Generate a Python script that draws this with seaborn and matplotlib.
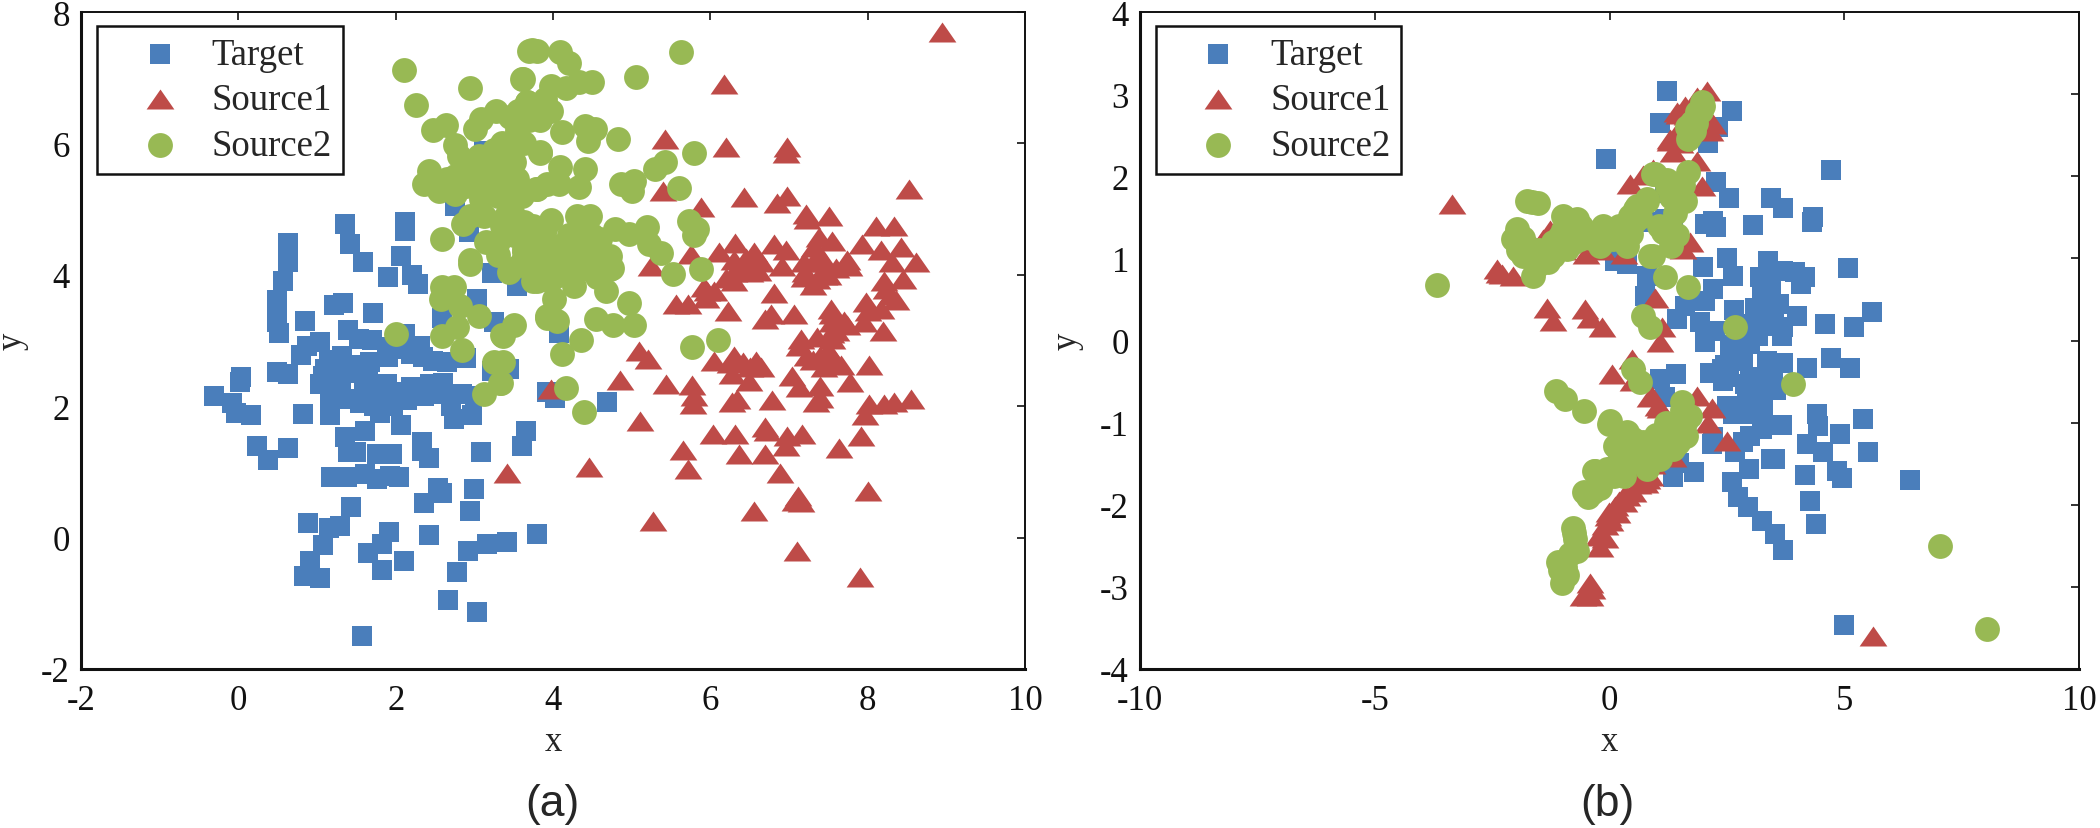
import matplotlib
matplotlib.use("Agg")
import matplotlib.pyplot as plt
import pandas as pd
import seaborn as sns

# (x, y)
target_a = [
    (0.63,4.49),(0.63,4.19),(1.35,4.77),(1.42,4.47),(1.59,4.19),(2.12,4.80),(2.12,4.67),(2.07,4.28),(1.90,3.97),(2.21,4.0),
    (2.76,5.05),(2.93,4.65),(3.12,5.89),(3.22,4.02),(0.57,3.91),(2.28,3.86),(3.54,3.91),(0.49,3.61),(0.49,3.43),(0.49,3.28),
    (0.52,3.11),(0.85,3.29),(1.21,3.54),(1.33,3.57),(1.71,3.42),(1.40,3.16),(1.53,3.02),(1.70,3.01),(1.04,2.98),(0.87,2.92),
    (0.80,2.78),(1.32,2.77),(2.12,3.10),(1.89,2.90),(2.10,2.87),(2.31,2.91),(3.03,3.63),(2.59,3.35),(3.25,3.28),(2.48,2.69),
    (2.65,2.67),(2.89,2.74),(3.40,2.57),(3.23,2.54),(0.04,2.45),(0.02,2.37),(0.49,2.52),(0.63,2.49),(1.10,2.57),(1.08,2.46),
    (1.04,2.34),(1.25,2.64),(1.44,2.62),(1.67,2.67),(1.53,2.51),(1.17,2.13),(1.34,2.11),(1.51,2.11),(1.68,2.29),(1.89,2.34),
    (1.70,2.11),(1.89,2.08),(2.0,2.21),(1.72,2.0),(1.97,2.0),(2.19,2.29),(2.44,2.34),(2.36,2.16),(2.61,2.19),(2.84,2.19),
    (3.01,2.16),(2.70,2.0),(2.74,1.81),(2.97,1.86),(3.93,2.21),(-0.31,2.16),(-0.08,2.05),(-0.03,1.90),(0.16,1.86),(0.82,1.88),
    (1.16,1.86),(1.61,1.63),(2.07,1.72),(0.24,1.39),(0.63,1.36),(0.38,1.18),(1.35,1.53),(1.40,1.31),(1.49,1.30),(1.76,1.27),
    (1.95,1.27),(2.33,1.45),(2.33,1.32),(2.42,1.21),(3.09,1.30),(3.66,1.63),(3.61,1.39),(1.18,0.92),(1.38,0.92),(1.61,0.97),
    (1.76,0.89),(1.93,0.94),(2.04,0.92),(2.54,0.76),(2.59,0.68),(3.0,0.74),(2.36,0.53),(2.94,0.40),(1.43,0.46),(0.88,0.22),
    (1.29,0.18),(1.15,0.14),(1.07,-0.11),(0.91,-0.35),(0.83,-0.58),(1.04,-0.62),(1.92,0.09),(1.82,-0.09),(1.65,-0.24),(1.82,-0.49),
    (2.11,-0.36),(2.42,0.04),(2.92,-0.21),(3.16,-0.09),(3.42,-0.06),(3.80,0.06),(2.78,-0.52),(2.67,-0.95),(3.03,-1.14),(1.57,-1.50),
    (3.54,3.83),(4.08,3.12),(3.44,2.57),(3.99,2.21),(4.03,2.13),(4.69,2.06),(3.95,4.0),
    (1.6,2.2),(1.8,2.2),(1.55,2.05),(1.25,2.4),(1.2,2.2),(2.6,2.35),(2.15,2.1),(1.8,1.9),(1.3,2.35),(1.65,2.4),(2.2,2.8),(2.35,2.75),
    (1.9,2.75),(1.15,2.7),
]
source1_a = [
    (8.94,7.70),(6.17,6.90),(5.43,6.07),(6.20,5.95),(6.98,5.94),(6.96,5.85),(5.40,5.27),(5.88,5.03),(6.43,5.18),(8.52,5.31),
    (6.97,5.20),(6.85,5.09),(7.22,4.93),(7.51,4.90),(7.23,4.85),(8.10,4.75),(8.33,4.75),(6.31,4.49),(6.81,4.47),(6.96,4.37),
    (7.38,4.57),(7.55,4.52),(7.32,4.42),(7.93,4.47),(8.17,4.37),(8.42,4.42),(7.74,4.22),(8.61,4.19),(6.11,4.34),(6.55,4.34),
    (5.75,4.32),(5.24,4.14),(6.30,4.22),(6.43,4.14),(6.64,4.19),(6.91,4.14),(7.19,4.19),(7.30,4.19),(7.47,4.14),(8.31,4.19),
    (5.92,3.81),(5.96,3.76),(5.56,3.56),(5.71,3.56),(6.30,3.91),(6.60,4.06),(6.38,4.09),(6.81,3.73),(6.23,3.45),(6.77,3.40),
    (6.70,3.33),(7.06,3.40),(7.19,3.96),(7.36,3.94),(7.49,3.99),(7.76,4.14),(8.21,3.91),(8.23,3.78),(8.45,3.94),(8.36,3.61),
    (7.98,3.58),(8.17,3.48),(7.53,3.48),(7.55,3.28),(7.74,3.23),(7.95,3.28),(8.20,3.15),(7.53,3.12),(7.55,3.02),(7.15,3.02),
    (7.13,2.92),(7.23,2.77),(7.57,2.72),(7.40,2.77),(7.66,2.62),(8.02,2.62),(5.09,2.84),(5.21,2.72),(6.05,2.69),(6.30,2.77),
    (6.41,2.67),(6.58,2.69),(6.64,2.59),(6.28,2.49),(6.49,2.39),(7.04,2.46),(7.13,2.29),(7.39,2.31),(7.78,2.37),(4.85,2.40),
    (5.44,2.34),(5.77,2.32),(5.79,2.16),(5.78,2.03),(6.34,2.11),(6.28,2.06),(6.79,2.10),(7.34,2.06),(7.40,2.13),(8.02,2.03),
    (8.21,2.03),(8.33,2.06),(8.55,2.11),(7.97,1.86),(5.10,1.78),(6.03,1.58),(6.31,1.58),(6.70,1.68),(6.72,1.63),(6.98,1.55),
    (7.17,1.58),(6.96,1.40),(7.91,1.54),(7.64,1.36),(5.65,1.33),(6.36,1.27),(6.70,1.27),(5.71,1.04),(6.89,0.99),(4.46,1.08),
    (3.42,0.99),(8.0,0.71),(7.11,0.64),(7.08,0.56),(7.15,0.54),(6.56,0.41),(5.27,0.26),(3.97,2.26),(7.1,-0.2),(7.9,-0.6),
    (7.4,4.3),(7.45,4.0),(7.2,4.05),(7.6,4.1),(7.3,3.85),(6.5,4.05),(6.45,4.25),(6.3,4.05),(6.2,3.95),(6.05,3.75),(7.55,3.4),
    (7.6,3.15),(7.7,3.3),(7.35,3.05),(7.5,2.85),(7.3,2.7),(7.45,2.6),(6.25,2.65),(6.5,2.6),(5.95,3.65),(8.3,3.7),(8.0,3.45),
]
source2_a = [
    (2.10,7.11),(2.95,6.85),(2.26,6.58),(3.73,7.42),(3.61,6.98),(2.48,6.20),(2.64,6.28),(3.08,6.37),(3.27,6.50),(3.01,6.22),
    (2.76,5.97),(2.80,5.81),(3.06,5.81),(3.67,6.63),(3.54,6.27),(3.46,6.0),(3.84,5.86),(2.42,5.58),(2.65,5.46),(2.36,5.38),
    (2.55,5.28),(2.76,5.23),(3.08,5.46),(3.37,5.61),(3.50,5.71),(3.08,5.15),(2.86,4.77),(3.12,4.90),(2.59,4.55),(3.35,4.75),
    (3.48,4.95),(3.75,4.75),(3.80,5.3),(2.95,4.22),(3.63,4.34),(3.46,4.09),(3.84,4.19),(3.97,6.5),(3.29,5.36),(3.44,5.15),
    (3.54,5.46),(3.25,5.9),(3.63,6.0),(3.69,7.41),(3.80,7.41),(4.09,7.39),(4.20,7.23),(3.62,6.98),(3.97,6.88),(4.16,6.85),
    (4.33,6.93),(4.50,6.93),(5.05,7.01),(5.63,7.39),(3.67,6.63),(3.90,6.68),(3.84,6.35),(3.54,6.19),(4.11,6.18),(4.41,6.27),
    (4.54,6.22),(4.44,6.04),(4.82,6.06),(3.83,5.87),(3.46,5.97),(4.09,5.64),(4.41,5.61),(3.46,5.64),(3.78,5.31),(3.92,5.38),
    (4.07,5.38),(4.33,5.33),(4.86,5.38),(5.03,5.43),(5.01,5.27),(5.30,5.61),(5.43,5.71),(5.79,5.86),(5.60,5.32),(3.46,5.0),
    (3.97,4.84),(4.31,4.89),(4.47,4.89),(3.63,4.80),(3.46,4.75),(4.79,4.70),(4.96,4.62),(5.19,4.72),(5.22,4.47),(5.37,4.33),
    (5.73,4.82),(5.83,4.70),(5.79,4.60),(3.63,4.39),(3.80,4.42),(4.01,4.44),(4.18,4.49),(4.35,4.37),(4.60,4.34),(4.73,4.29),
    (3.75,4.19),(4.05,4.19),(4.73,4.09),(5.88,4.09),(5.52,4.01),(4.35,4.09),(3.71,4.09),(3.88,3.94),(4.29,4.09),(4.75,4.11),
    (4.56,3.96),(4.27,3.83),(4.67,3.76),(4.01,3.63),(4.96,3.57),(3.99,3.35),(3.92,3.35),(4.05,3.30),(4.55,3.32),(4.76,3.23),
    (5.03,3.23),(4.36,3.01),(4.11,2.79),(3.33,2.36),(4.16,2.27),(4.39,1.91),(5.77,2.90),(6.10,3.01),(3.37,2.67),(3.5,3.23),
    (3.37,3.07),(2.0,3.10),(2.95,4.16),(2.59,3.81),(2.74,3.81),(2.57,3.63),(2.82,3.53),(3.06,3.38),(2.78,3.20),(2.59,3.07),
    (2.84,2.86),(3.35,3.08),(3.44,4.04),(3.25,2.68),(3.34,2.36),(3.12,2.18),(3.93,3.38),(3.80,3.91),
    (3.2,5.6),(3.3,5.2),(3.4,4.9),(3.3,5.8),(3.6,5.2),(3.15,5.3),(3.5,4.6),(3.3,4.5),(3.7,4.6),(3.9,4.7),(3.9,4.3),(4.2,4.6),
    (4.4,4.5),(4.1,4.35),(4.5,4.6),(4.6,4.55),(3.6,4.2),(3.3,4.3),(3.15,4.5),(2.95,4.9),(2.75,5.5),(2.95,5.6),(2.9,5.35),(3.55,6.5),
    (3.7,6.35),(3.35,6.0),(3.45,6.4),(4.2,4.1),(3.75,3.9),(4.0,3.95),(4.5,4.2),(4.4,4.75),
]
target_b = [
    (1.22,3.04),(1.08,2.65),(2.60,2.80),(2.32,2.60),(2.10,2.41),(-0.07,2.21),(4.72,2.08),(2.27,1.93),(2.55,1.73),(3.43,1.74),
    (3.70,1.61),(1.18,1.80),(3.06,1.41),(2.03,1.42),(2.21,1.46),(2.27,1.38),(4.34,1.50),(4.31,1.44),(0.93,1.44),(1.18,1.48),
    (1.36,1.42),(2.50,1.01),(3.38,0.97),(0.26,1.03),(0.12,0.97),(0.37,0.93),(0.79,0.79),(0.76,0.54),(2.64,0.79),(2.0,0.89),
    (2.21,0.63),(2.03,0.48),(1.61,0.42),(1.43,0.26),(2.65,0.37),(1.93,0.22),(2.25,0.12),(2.03,-0.02),(3.21,0.77),(3.45,0.73),
    (3.70,0.85),(3.95,0.83),(4.16,0.77),(4.07,0.69),(5.09,0.88),(3.35,0.50),(3.13,0.32),(3.38,0.38),(3.99,0.30),(4.58,0.20),
    (3.70,0.16),(3.67,0.05),(3.28,0.18),(3.17,0.06),(2.99,-0.04),(2.82,-0.13),(2.57,-0.06),(2.57,-0.23),(2.85,-0.25),(3.70,-0.27),
    (3.49,-0.39),(4.21,-0.34),(4.72,-0.21),(5.12,-0.34),(1.42,-0.41),(1.08,-0.47),(2.14,-0.39),(2.42,-0.49),(2.89,-0.53),(3.24,-0.55),
    (3.42,-0.49),(2.50,-0.80),(2.92,-0.67),(3.28,-0.75),(2.64,-0.90),(3.28,-0.92),(3.67,-1.03),(4.41,-0.90),(4.45,-1.04),(3.24,-1.08),
    (1.18,-0.69),(2.21,-1.18),(2.99,-1.16),(2.18,-1.26),(2.85,-1.24),(2.67,-1.36),(4.21,-1.26),(4.54,-1.36),(1.47,-1.49),(1.80,-1.60),
    (1.36,-1.66),(2.97,-1.57),(3.45,-1.44),(3.53,-1.44),(4.16,-1.64),(4.85,-1.59),(4.95,-1.67),(2.60,-1.72),(2.74,-1.91),(2.96,-2.03),
    (3.24,-2.2),(3.53,-2.36),(3.70,-2.55),(4.26,-1.96),(4.40,-2.23),(5.0,-3.46),(6.39,-1.7),(5.6,0.35),(5.2,0.17),(5.39,-0.96),
    (5.5,-1.36),(4.9,-1.14),
    (2.7,0.0),(2.9,0.1),(3.0,0.2),(3.1,0.4),(3.25,0.55),(3.45,0.6),(2.7,-0.2),(2.45,-0.3),(2.55,-0.45),(3.1,-0.6),(3.1,-0.85),
    (2.95,-0.9),(3.55,-0.6),(3.35,-0.25),(2.4,-0.35),(3.0,-0.45),(3.5,0.35),(3.6,0.45),
]
source1_b = [
    (-3.36,1.66),(-1.27,1.34),(-1.41,1.23),(0.93,2.09),(0.44,1.90),(0.72,2.01),(1.29,2.45),(-2.4,0.87),(-2.05,0.79),(1.43,2.78),
    (-2.30,0.81),(-1.34,0.40),(-1.2,0.24),(-0.52,0.38),(-0.41,0.28),(-0.17,0.16),(0.05,-0.41),(0.47,-0.23),(0.51,-0.49),(0.86,-0.69),
    (1.04,-0.80),(0.97,0.52),(1.08,-0.02),(0.79,-1.69),(0.37,-1.89),(0.30,-1.97),(-0.02,-2.09),(0.01,-2.20),(-0.20,-2.36),(2.07,3.04),
    (1.86,2.96),(1.61,2.86),(1.47,2.76),(2.21,2.64),(1.29,2.43),(1.86,2.19),(1.96,1.88),(1.57,1.11),(1.72,1.2),(1.11,0.16),
    (0.90,-0.67),(1.08,-0.82),(1.86,-0.67),(2.19,-0.82),(2.10,-1.0),(2.50,-1.22),(0.86,-1.65),(0.76,-1.73),(0.33,-1.87),(0.12,-2.01),
    (-0.03,-2.14),(-0.2,-2.38),(-0.2,-2.52),(-0.42,-2.95),(-0.56,-3.11),(-0.42,-3.11),(-0.38,-3.03),(5.62,-3.6),(1.36,-1.42),
    (0.6,-1.75),(0.5,-1.85),(0.2,-1.95),(0.15,-2.1),(-0.1,-2.25),(-0.1,-2.4),(0.65,-1.6),(0.9,-1.5),(1.35,2.3),(1.5,2.4),(1.9,2.75),
    (2.0,2.6),(2.15,2.55),(1.45,2.55),(1.65,2.75),(-0.15,1.1),(0.3,1.05),(-0.5,1.05),(-2.35,0.82),(-1.0,1.1),
]
source2_b = [
    (-1.66,1.69),(-1.76,1.70),(-1.52,1.68),(-1.98,1.36),(-2.05,1.24),(-1.84,1.03),(-1.55,0.91),(-1.62,0.79),(-0.98,1.52),(-0.70,1.48),
    (-0.91,1.11),(-1.2,1.03),(-0.49,1.32),(-0.13,1.40),(-0.2,1.15),(0.30,1.36),(0.58,1.64),(0.79,1.72),(0.44,1.52),(0.93,2.03),
    (1.22,1.88),(0.86,1.03),(-1.05,1.27),(-0.63,1.23),(0.08,1.23),(0.37,1.15),(-3.68,0.67),(0.72,0.30),(0.86,0.16),(0.51,-0.35),
    (0.65,-0.51),(-1.13,-0.61),(-0.95,-0.71),(-0.54,-0.86),(0.01,-0.98),(0.37,-1.12),(0.12,-1.28),(0.72,-1.24),(-0.34,-1.59),(0.01,-1.57),
    (0.30,-1.65),(-0.45,-1.91),(-0.77,-2.28),(1.96,2.90),(1.86,2.78),(1.75,2.66),(1.72,2.49),(1.68,2.45),(0.97,2.03),(1.22,1.95),
    (1.68,2.05),(1.57,1.89),(1.61,1.70),(0.79,1.70),(0.54,1.60),(1.15,1.32),(1.43,1.28),(0.93,1.03),(1.68,0.65),(2.67,0.17),
    (3.90,-0.53),(1.18,0.77),(1.54,-0.75),(1.71,-0.92),(1.32,-1.08),(-0.02,-1.02),(1.64,-1.16),(1.36,-1.32),(1.08,-1.44),(0.79,-1.57),
    (0.51,-1.2),(0.86,-1.24),(-0.31,-1.59),(-0.06,-1.57),(-0.73,-2.42),(-0.70,-2.56),(-1.09,-2.70),(-0.95,-2.76),(-1.02,-2.95),(-0.2,-1.8),
    (7.05,-2.5),(8.04,-3.51),
    (-1.0,1.35),(-0.8,1.3),(-0.6,1.4),(-0.4,1.25),(-0.25,1.3),(-0.05,1.25),(0.15,1.3),(0.3,1.25),(0.45,1.3),(0.55,1.45),(-1.2,1.2),
    (-1.5,1.1),(-1.75,1.15),(-1.85,1.25),(-1.95,1.1),(-0.75,1.2),(0.2,1.4),(-1.3,0.95),(1.55,-0.85),(1.6,-1.0),(1.4,-1.1),(1.25,-1.2),
    (1.1,-1.3),(0.95,-1.35),(0.8,-1.45),(0.6,-1.4),(0.45,-1.45),(0.3,-1.5),(0.15,-1.5),(-0.1,-1.65),(-0.2,-1.75),(-0.35,-1.85),(0.6,-1.25),
    (1.0,-1.15),(1.2,-1.0),(-0.55,-1.85),(1.45,-1.25),(0.1,-1.65),(1.85,2.65),(1.8,2.55),(1.95,2.8),(2.0,2.85),(1.65,2.6),(-0.75,-2.35),
    (-0.85,-2.6),(-0.9,-2.85),(-1.05,-2.8),(1.4,1.55),(1.3,1.75),(0.65,1.5),(1.3,1.15),(1.25,1.3),(1.05,1.4),
]
series_names = ["Target", "Source1", "Source2"]
series_colors = ["#4A7EBB", "#BE4B48", "#98B954"]
a_xticks = [-2, 0, 2, 4, 6, 8, 10]
a_yticks = [-2, 0, 2, 4, 6, 8]
b_xticks = [-10, -5, 0, 5, 10]
b_yticks = [-4, -3, -2, -1, 0, 1, 2, 3, 4]

sns.set_style("white")
plt.rcParams["font.family"] = ["Liberation Serif", "DejaVu Serif"]
plt.rcParams["axes.unicode_minus"] = False

W, H = 2100, 829
fig = plt.figure(figsize=(W / 100, H / 100), dpi=100)
ax_a = fig.add_axes([81 / W, 1 - 670 / H, 944 / W, 657 / H])
ax_b = fig.add_axes([1140 / W, 1 - 670 / H, 939 / W, 657 / H])

# wide flat triangle like the original marker
tri = [(-1, -0.72), (1, -0.72), (0, 0.72)]
markers = ["s", tri, "o"]
sizes = [190, 400, 320]


def draw_panel(ax, series, xticks, yticks):
    for pts, name, col, m, s in zip(series, series_names, series_colors, markers, sizes):
        df = pd.DataFrame(pts, columns=["x", "y"])
        sns.scatterplot(data=df, x="x", y="y", ax=ax, color=col, marker=m, s=s,
                        linewidth=0, label=name)
    ax.set_xlim(xticks[0], xticks[-1])
    ax.set_ylim(yticks[0], yticks[-1])
    ax.set_xticks(xticks)
    ax.set_yticks(yticks)
    ax.tick_params(direction="in", length=6, width=1.2, top=True, right=True, colors="#111111",
                   labelsize=25, pad=8)
    ax.tick_params(axis="x", pad=11)
    ax.set_xlabel("x", fontsize=25)
    ax.set_ylabel("y", fontsize=25)
    ax.xaxis.set_label_coords(0.5, -0.085)
    for side, lw in [("left", 2.2), ("bottom", 2.2), ("top", 1.4), ("right", 1.4)]:
        ax.spines[side].set_linewidth(lw)
        ax.spines[side].set_color("#111111")
        ax.spines[side].set_visible(True)
    leg = ax.legend(loc="upper left", bbox_to_anchor=(16 / 944, 1 - 14 / 657), borderaxespad=0,
                    fontsize=26.5, fancybox=False, framealpha=1, edgecolor="#111111",
                    borderpad=0.3, handlelength=2.8, handletextpad=0.0, labelspacing=0.3,
                    scatterpoints=1)
    leg.get_frame().set_linewidth(1.8)


draw_panel(ax_a, [target_a, source1_a, source2_a], a_xticks, a_yticks)
draw_panel(ax_b, [target_b, source1_b, source2_b], b_xticks, b_yticks)
ax_a.yaxis.set_label_coords(-0.055, 0.5)
ax_b.yaxis.set_label_coords(-0.06, 0.5)

fig.text(552 / W, 1 - 805 / H, "(a)", family="Liberation Sans", fontsize=32, ha="center", va="center")
fig.text(1607 / W, 1 - 805 / H, "(b)", family="Liberation Sans", fontsize=32, ha="center", va="center")

fig.savefig("out.png", dpi=100, facecolor="white")
